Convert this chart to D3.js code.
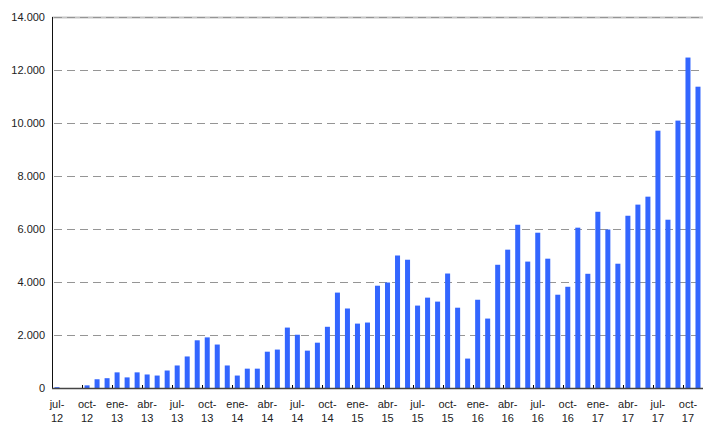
<!DOCTYPE html>
<html>
<head>
<meta charset="utf-8">
<script src="https://cdn.jsdelivr.net/npm/d3@7"></script>
<style>
  body { margin: 0; background: #fff; }
  svg { display: block; font-family: "Liberation Sans", Arial, sans-serif; }
</style>
</head>
<body>
<svg id="chart" width="703" height="423"></svg>
<script>
// monthly categories, jul-12 .. nov-17
var categories = [
  "jul-12","ago-12","sep-12","oct-12","nov-12","dic-12",
  "ene-13","feb-13","mar-13","abr-13","may-13","jun-13","jul-13","ago-13","sep-13","oct-13","nov-13","dic-13",
  "ene-14","feb-14","mar-14","abr-14","may-14","jun-14","jul-14","ago-14","sep-14","oct-14","nov-14","dic-14",
  "ene-15","feb-15","mar-15","abr-15","may-15","jun-15","jul-15","ago-15","sep-15","oct-15","nov-15","dic-15",
  "ene-16","feb-16","mar-16","abr-16","may-16","jun-16","jul-16","ago-16","sep-16","oct-16","nov-16","dic-16",
  "ene-17","feb-17","mar-17","abr-17","may-17","jun-17","jul-17","ago-17","sep-17","oct-17","nov-17"
];

var values = [
  30, 0, 0, 100, 330, 370,
  590, 400, 590, 510, 470, 660, 850, 1190, 1800, 1910, 1640, 850,
  470, 730, 730, 1370, 1450, 2280, 2010, 1410, 1710, 2310, 3600, 3000,
  2430, 2470, 3860, 3980, 5000, 4840, 3110, 3410, 3260, 4320, 3030, 1110,
  3330, 2620, 4650, 5220, 6160, 4770, 5860, 4880, 3520, 3820, 6050, 4310,
  6650, 5980, 4690, 6500, 6920, 7220, 9710, 6350, 10090, 12470, 11370
];

var yTicks = [0, 2000, 4000, 6000, 8000, 10000, 12000, 14000];

var svg = d3.select("#chart");
var margin = {top: 17, right: 0, bottom: 35, left: 52};
var width = +svg.attr("width");
var height = +svg.attr("height");

var locale = d3.formatLocale({decimal: ",", thousands: ".", grouping: [3], currency: ["", ""]});
var fmt = locale.format(",d");

var x = d3.scaleBand()
    .domain(categories)
    .range([margin.left, width - margin.right])
    .paddingInner(0.5)
    .paddingOuter(0.25);

var y = d3.scaleLinear()
    .domain([0, 14000])
    .range([height - margin.bottom, margin.top]);

// top border line (lighter, under the dashes)
svg.append("line")
    .attr("x1", margin.left).attr("x2", width - margin.right)
    .attr("y1", y(14000) + 0.5).attr("y2", y(14000) + 0.5)
    .style("stroke", "#c4c4c4")
    .style("stroke-width", 2);

// dashed gridlines
svg.append("g")
    .selectAll("line")
    .data(yTicks.filter(function(d) { return d > 0; }))
    .enter().append("line")
    .attr("x1", margin.left + 2)
    .attr("x2", width - margin.right)
    .attr("y1", function(d) { return Math.round(y(d)) + 0.5; })
    .attr("y2", function(d) { return Math.round(y(d)) + 0.5; })
    .style("stroke", "#959595")
    .style("stroke-width", 1)
    .style("stroke-dasharray", "8,5");

// bars
svg.append("g")
    .selectAll("rect")
    .data(values)
    .enter().append("rect")
    .attr("x", function(d, i) { return x(categories[i]); })
    .attr("width", x.bandwidth())
    .attr("y", function(d) { return y(d); })
    .attr("height", function(d) { return y(0) - y(d); })
    .style("fill", "#3366ff");

// y axis labels
var yAxis = svg.append("g")
    .attr("transform", "translate(" + margin.left + ",0)")
    .call(d3.axisLeft(y).tickValues(yTicks).tickFormat(fmt).tickSize(0).tickPadding(7));
yAxis.select(".domain").remove();
yAxis.selectAll("text")
    .style("font-size", "11px")
    .style("fill", "#222");

svg.append("line")
    .attr("x1", margin.left + 0.5).attr("x2", margin.left + 0.5)
    .attr("y1", margin.top).attr("y2", y(0))
    .style("stroke", "#111")
    .style("stroke-width", 1);

// x axis: labels every 3 months, two lines
var labelCats = categories.filter(function(d, i) { return i % 3 === 0; });
var xAxis = svg.append("g")
    .attr("transform", "translate(0," + y(0) + ")")
    .call(d3.axisBottom(x).tickValues(labelCats).tickSize(0).tickPadding(12));
xAxis.select(".domain").remove();
xAxis.selectAll("text").each(function(d) {
  var parts = d.split("-");
  var t = d3.select(this).text(null).style("font-size", "11px").style("fill", "#222");
  t.append("tspan").attr("x", 0).attr("dy", "0.71em").text(parts[0] + "-");
  t.append("tspan").attr("x", 0).attr("dy", "1.25em").text(parts[1]);
});

// tick marks at category boundaries
var step = x.step();
svg.append("g")
    .selectAll("line")
    .data(labelCats.slice(1))
    .enter().append("line")
    .attr("x1", function(d) { return Math.round(x(d) - (step - x.bandwidth()) / 2) + 0.5; })
    .attr("x2", function(d) { return Math.round(x(d) - (step - x.bandwidth()) / 2) + 0.5; })
    .attr("y1", y(0) - 3)
    .attr("y2", y(0) + 1)
    .style("stroke", "#000")
    .style("stroke-width", 1);

svg.append("line")
    .attr("x1", margin.left).attr("x2", width - margin.right)
    .attr("y1", y(0) + 0.5).attr("y2", y(0) + 0.5)
    .style("stroke", "#444")
    .style("stroke-width", 1.5);
</script>
</body>
</html>
